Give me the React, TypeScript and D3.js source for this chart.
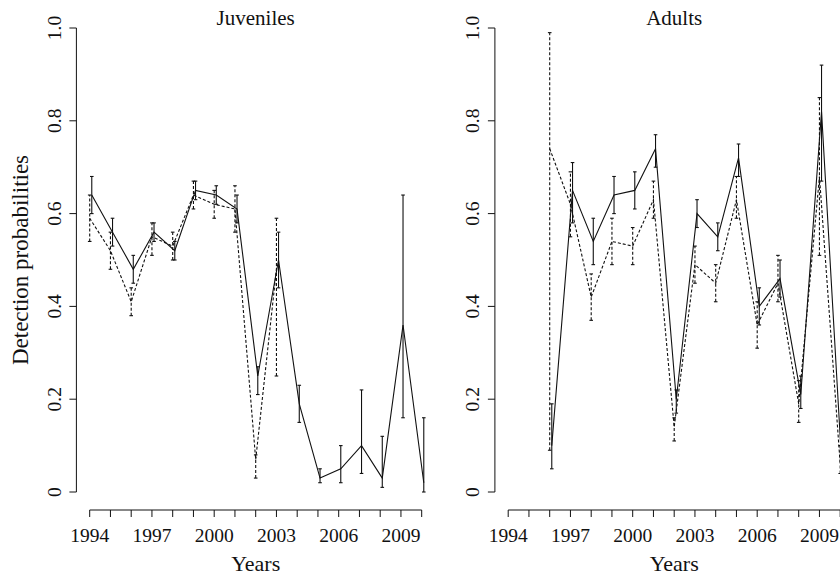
import React from "react";
import { scaleLinear, line } from "d3";

// years for each panel
const juvYears = [1994, 1995, 1996, 1997, 1998, 1999, 2000, 2001, 2002, 2003, 2004, 2005, 2006, 2007, 2008, 2009, 2010];
const juvSolid = [0.64, 0.56, 0.48, 0.56, 0.52, 0.65, 0.64, 0.61, 0.25, 0.5, 0.19, 0.03, 0.05, 0.1, 0.03, 0.36, 0.02];
const juvSolidLo = [0.6, 0.53, 0.45, 0.54, 0.5, 0.63, 0.62, 0.58, 0.21, 0.44, 0.15, 0.02, 0.02, 0.04, 0.01, 0.16, 0.0];
const juvSolidHi = [0.68, 0.59, 0.51, 0.58, 0.54, 0.67, 0.66, 0.64, 0.27, 0.56, 0.23, 0.05, 0.1, 0.22, 0.12, 0.64, 0.16];

const juvDashYears = [1994, 1995, 1996, 1997, 1998, 1999, 2000, 2001, 2002, 2003];
const juvDash = [0.59, 0.52, 0.41, 0.55, 0.53, 0.64, 0.62, 0.61, 0.07, 0.48];
const juvDashLo = [0.54, 0.48, 0.38, 0.51, 0.5, 0.61, 0.59, 0.56, 0.03, 0.25];
const juvDashHi = [0.64, 0.56, 0.44, 0.58, 0.56, 0.67, 0.65, 0.66, 0.08, 0.59];

const adYears = [1996, 1997, 1998, 1999, 2000, 2001, 2002, 2003, 2004, 2005, 2006, 2007, 2008, 2009, 2010];
const adSolid = [0.1, 0.65, 0.54, 0.64, 0.65, 0.74, 0.2, 0.6, 0.55, 0.72, 0.4, 0.46, 0.21, 0.82, 0.04];
const adSolidLo = [0.05, 0.58, 0.49, 0.6, 0.61, 0.7, 0.17, 0.57, 0.52, 0.68, 0.36, 0.42, 0.18, 0.67, 0.0];
const adSolidHi = [0.19, 0.71, 0.59, 0.68, 0.69, 0.77, 0.22, 0.63, 0.58, 0.75, 0.44, 0.5, 0.25, 0.92, 0.1];

const adDash = [0.74, 0.62, 0.42, 0.54, 0.53, 0.63, 0.14, 0.49, 0.45, 0.63, 0.36, 0.45, 0.19, 0.68, 0.06];
const adDashLo = [0.09, 0.55, 0.37, 0.49, 0.49, 0.59, 0.11, 0.45, 0.41, 0.59, 0.31, 0.41, 0.15, 0.51, 0.04];
const adDashHi = [0.99, 0.69, 0.47, 0.59, 0.57, 0.67, 0.16, 0.53, 0.49, 0.68, 0.41, 0.51, 0.24, 0.85, 0.1];

const xTicks = [1994, 1995, 1996, 1997, 1998, 1999, 2000, 2001, 2002, 2003, 2004, 2005, 2006, 2007, 2008, 2009, 2010];
const xLabels = [1994, 1997, 2000, 2003, 2006, 2009];
const yTicks = [0, 0.2, 0.4, 0.6, 0.8, 1.0];
const yLabels = ["0", "0.2", "0.4", "0.6", "0.8", "1.0"];

const FONT = "'Liberation Serif', 'Times New Roman', serif";
const SOLID_SHIFT = 0.1;
const CAP = 1.8;

type Series = { years: number[]; v: number[]; lo: number[]; hi: number[]; dashed: boolean };

const Panel: React.FC<{ dx: number; title: string; series: Series[]; yLabel?: string }> = ({ dx, title, series, yLabel }) => {
  const x = scaleLinear().domain([1994, 2010]).range([89.7 + dx, 421.7 + dx]);
  const y = scaleLinear().domain([0, 1]).range([492, 28]);
  const axisX = 76.4 + dx;
  const axisY = 510;
  const cx = (axisX + x(2010) + 13.3) / 2;

  return (
    <g fontFamily={FONT} fill="#111">
      <text x={cx} y={18} textAnchor="middle" dominantBaseline="central" fontSize={21}>
        {title}
      </text>
      {yLabel && (
        <text
          transform={`translate(${20 + dx}, ${(y(0) + y(1)) / 2}) rotate(-90)`}
          textAnchor="middle"
          dominantBaseline="central"
          fontSize={23}
        >
          {yLabel}
        </text>
      )}
      {/* y axis */}
      <line x1={axisX} x2={axisX} y1={y(0)} y2={y(1)} stroke="#111" />
      {yTicks.map((t, i) => (
        <g key={t}>
          <line x1={axisX - 7} x2={axisX} y1={y(t)} y2={y(t)} stroke="#111" />
          <text
            transform={`translate(${axisX - 22}, ${y(t)}) rotate(-90)`}
            textAnchor="middle"
            dominantBaseline="central"
            fontSize={19.5}
          >
            {yLabels[i]}
          </text>
        </g>
      ))}
      {/* x axis */}
      <line x1={x(1994)} x2={x(2010)} y1={axisY} y2={axisY} stroke="#111" />
      {xTicks.map(t => (
        <line key={t} x1={x(t)} x2={x(t)} y1={axisY} y2={axisY + 7} stroke="#111" />
      ))}
      {xLabels.map(t => (
        <text key={t} x={x(t)} y={535} textAnchor="middle" dominantBaseline="central" fontSize={19.5}>
          {t}
        </text>
      ))}
      <text x={cx} y={563} textAnchor="middle" dominantBaseline="central" fontSize={22}>
        Years
      </text>
      {/* series */}
      {series.map((s, si) => {
        const sh = s.dashed ? 0 : SOLID_SHIFT;
        const pts = s.years.map((yr, i) => [x(yr + sh), y(s.v[i])] as [number, number]);
        const dash = s.dashed ? "3,2" : undefined;
        return (
          <g key={si} stroke="#111" fill="none" strokeWidth={1.1} strokeDasharray={dash}>
            <path d={line()(pts)!} />
            {s.years.map((yr, i) => {
              const px = x(yr + sh);
              return (
                <g key={yr}>
                  <line x1={px} x2={px} y1={y(s.lo[i])} y2={y(s.hi[i])} />
                  <line x1={px - CAP} x2={px + CAP} y1={y(s.lo[i])} y2={y(s.lo[i])} strokeDasharray="none" />
                  <line x1={px - CAP} x2={px + CAP} y1={y(s.hi[i])} y2={y(s.hi[i])} strokeDasharray="none" />
                </g>
              );
            })}
          </g>
        );
      })}
    </g>
  );
};

export default function App() {
  const juv: Series[] = [
    { years: juvDashYears, v: juvDash, lo: juvDashLo, hi: juvDashHi, dashed: true },
    { years: juvYears, v: juvSolid, lo: juvSolidLo, hi: juvSolidHi, dashed: false }
  ];
  const ad: Series[] = [
    { years: adYears, v: adDash, lo: adDashLo, hi: adDashHi, dashed: true },
    { years: adYears, v: adSolid, lo: adSolidLo, hi: adSolidHi, dashed: false }
  ];
  return (
    <svg width={840} height={576} style={{ position: "absolute", left: 0, top: 0, background: "#fff" }}>
      <rect width={840} height={576} fill="#fff" />
      <Panel dx={0} title="Juveniles" series={juv} yLabel="Detection probabilities" />
      <Panel dx={418.5} title="Adults" series={ad} />
    </svg>
  );
}
